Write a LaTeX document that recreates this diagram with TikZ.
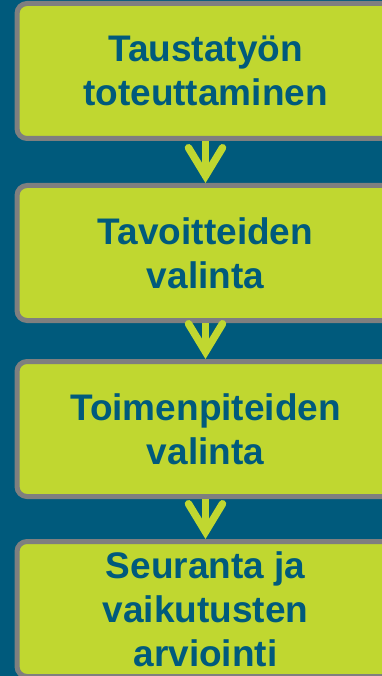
\documentclass[tikz,border=0pt]{standalone}
\usepackage{fontspec}
\setmainfont{Liberation Sans}
\usetikzlibrary{arrows.meta}

\definecolor{deepteal}{RGB}{0,90,124}
\definecolor{limegreen}{RGB}{192,215,48}
\definecolor{framegray}{RGB}{127,127,127}

\begin{document}
\begin{tikzpicture}[x=1pt, y=1pt,
      stagebox/.style={rectangle, rounded corners=10pt, draw=framegray, line width=5pt,
        fill=limegreen, minimum width=377pt, minimum height=135pt, align=center,
        text=deepteal, font=\fontsize{37}{44}\selectfont\bfseries},
      stagearrow/.style={draw=limegreen, line width=7.5pt,
        -{Straight Barb[length=28pt, width=34pt, line cap=round]}},
      stageshaft/.style={draw=limegreen, line width=7.5pt, shorten >=5pt}]
      \useasboundingbox (0,0) rectangle (382,-676);
      \clip (0,0) rectangle (382,-676);
      \fill[deepteal] (0,0) rectangle (382,-676);
      \node[stagebox] (tausta) at (205.5,-71) {Taustatyön\\toteuttaminen};
      \node[stagebox] (tavoite) at (205.5,-253) {Tavoitteiden\\valinta};
      \node[stagebox] (toimet) at (205.5,-429) {Toimenpiteiden\\valinta};
      \node[stagebox] (seuranta) at (205.5,-609) {Seuranta ja\\vaikutusten\\arviointi};
      % shafts run down to the tips
      \draw[stageshaft] (tausta.south) -- (tavoite.north);
      \draw[stageshaft] (tavoite.south) -- (toimet.north);
      \draw[stageshaft] (toimet.south) -- (seuranta.north);
      \draw[stagearrow] (tausta.south) -- (tavoite.north);
      \draw[stagearrow] (tavoite.south) -- (toimet.north);
      \draw[stagearrow] (toimet.south) -- (seuranta.north);
    \end{tikzpicture}
\end{document}
